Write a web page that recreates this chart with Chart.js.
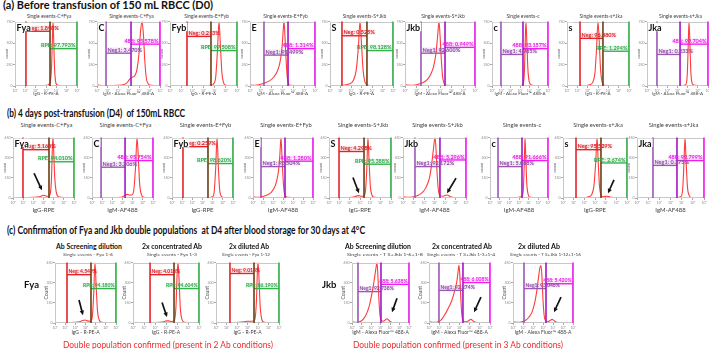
<!DOCTYPE html>
<html><head><meta charset="utf-8">
<script src="https://cdn.jsdelivr.net/npm/chart.js@4.4.1/dist/chart.umd.min.js"></script>
<style>
html,body{margin:0;padding:0;background:#fff;width:709px;height:349px;overflow:hidden;position:relative;font-family:Lato,'Liberation Sans',sans-serif;}
.t{position:absolute;white-space:pre;line-height:1;transform-origin:0 50%;}
canvas{position:absolute;}
</style></head><body>
<script>
// ================= DATA =================
const X_TICK_LABELS = ['10⁰','10¹','10²','10³','10⁴','10⁵','10⁶'];
const Y_TICKS_D0 = ['0','250','500','750'];
const Y_TICKS_D4 = ['0','150','300','450'];
const Y_TICKS_D30 = ['0','150','300','450'];

// Row (a) D0 histograms: [log-position (0-60), % of max count]
const fyaD0 = [[0,8],[0.4,1],[10,0.5],[25,0.5],[31,1],[33,3],[34.5,10],[35.5,35],[36.3,80],[36.8,100],[37.4,75],[38.2,30],[39.2,8],[40.5,2],[43,0.5],[60,0]];
const cD0 = [[0,30],[0.4,2],[10,0.5],[20,1],[25,2],[28,4],[30,8],[32,12],[34,14],[36,16],[38,25],[40,50],[41.5,85],[42.9,100],[44.2,80],[45.5,40],[47,12],[49,3],[52,1],[60,0]];
const fybD0 = [[0,6],[0.4,0.5],[30,0.5],[37,1],[39,3],[41,15],[42.5,55],[43.9,100],[45.2,60],[46.5,20],[48,5],[50,1],[60,0]];
const eD0 = [[0,2],[3,1],[8,2],[14,5],[18,8],[22,14],[25,22],[27,32],[28.5,45],[29.8,65],[30.8,90],[31.4,100],[32.2,80],[33.2,45],[34.3,15],[35.5,4],[37,1],[60,0]];
const sD0 = [[0,6],[0.4,0.5],[12,1],[18,3],[22,8],[25,25],[27,60],[28.6,100],[30,65],[31.5,25],[33,8],[35,2],[38,0.5],[60,0]];
const jkbD0 = [[0,2],[5,1],[10,2],[15,5],[19,10],[22,18],[24.5,30],[26.5,50],[28,78],[29.1,100],[30,80],[31,45],[32.2,15],[33.5,4],[35,1],[60,0]];
const cLowD0 = [[0,6],[0.4,0.5],[28,0.5],[32,1],[33.5,4],[34.8,25],[35.7,75],[36.4,100],[37.3,70],[38.5,25],[40,6],[42,1.5],[45,0.5],[60,0]];
const sLowD0 = [[0,6],[0.4,0.5],[15,0.5],[22,2],[25,6],[27,20],[28.5,55],[30,100],[31.3,65],[32.5,25],[34,6],[36,1],[60,0]];
const jkaD0 = [[0,6],[0.4,0.5],[35,0.5],[38,2],[39.5,15],[40.5,60],[41.3,100],[42.2,65],[43.2,20],[44.5,4],[47,1],[60,0]];

// Row (b) D4 histograms
const fyaD4 = [[0,6],[0.4,0.5],[10,0.5],[20,1],[26,2],[28,3.5],[29.5,4.5],[31,4],[33,3],[35,3],[36.5,6],[37.8,30],[38.7,80],[39.3,100],[40,80],[41,35],[42.5,10],[44,3],[47,1],[60,0]];
const cD4 = [[0,6],[0.4,0.5],[20,0.5],[28,1],[31,3],[33,5],[35,6],[37,5],[39,5],[41,12],[42.8,50],[44.3,100],[45.5,70],[46.8,25],[48.5,6],[51,1],[60,0]];
const fybD4 = [[0,6],[0.4,0.5],[36,0.5],[40,2],[41.5,10],[43,50],[44.3,100],[45.5,55],[46.8,15],[48.5,3],[51,0.5],[60,0]];
const eD4 = [[0,2],[4,1],[9,2],[14,5],[18,9],[21,16],[23.5,27],[25.5,45],[26.8,70],[28,100],[28.8,75],[29.8,40],[31,12],[32.5,3],[35,1],[60,0]];
const sD4 = [[0,6],[0.4,0.5],[15,0.5],[22,1],[25,2],[27,3.5],[29,4],[31,3],[33,3],[35,8],[36.5,45],[37.7,100],[38.8,60],[40,20],[41.5,5],[44,1],[60,0]];
const jkbD4 = [[0,2],[5,1],[10,2],[15,5],[19,10],[22,18],[25,32],[27,52],[28.8,78],[30.5,100],[31.5,80],[32.5,40],[33.8,12],[35.5,4],[38,3],[40,4],[42,5],[44,3.5],[46,1.5],[49,0.5],[60,0]];
const cLowD4 = [[0,6],[0.4,0.5],[28,0.5],[31,1.5],[33,3],[34.5,15],[35.5,60],[36.2,100],[37,70],[38,25],[39.5,6],[41.5,1],[60,0]];
const sLowD4 = [[0,6],[0.4,0.5],[18,0.5],[24,2],[27,6],[29,20],[30.7,60],[31.9,100],[33,60],[34.2,20],[35.5,5],[37,2],[39,2.5],[41,3],[43,2.5],[45,1],[60,0]];
const jkaD4 = [[0,6],[0.4,0.5],[36,0.5],[39,2],[40.8,12],[42,55],[43,100],[44,60],[45.2,18],[46.8,4],[49,0.5],[60,0]];

// Row (c) D4 + 30 days storage histograms
const fyaScreen = [[0,6],[0.4,0.5],[12,0.5],[20,1],[24,2],[27,4],[29.5,5],[32,3.5],[34.5,3],[36.5,8],[38,45],[39.3,100],[40.5,60],[41.8,20],[43.5,5],[46,1],[60,0]];
const fyaConc = [[0,6],[0.4,0.5],[16,0.5],[24,1],[28,2],[30.5,3.5],[32.5,3.5],[35,2.5],[37.5,4],[39,25],[40.1,80],[40.9,100],[41.8,75],[43,25],[44.5,6],[47,1],[60,0]];
const fyaDil = [[0,6],[0.4,0.5],[14,0.5],[22,1],[27,2],[30,3],[32.5,3],[35,3],[37,6],[38.6,40],[39.4,85],[40,100],[40.8,80],[42,30],[43.5,7],[46,1],[60,0]];
const jkbScreen = [[0,2],[4,1],[8,2],[11,5],[13.5,10],[16,18],[18.5,30],[20.5,45],[22.5,62],[24.2,80],[25.5,94],[26.3,100],[27.2,80],[28.3,40],[29.5,12],[31,4],[33,3],[35,5],[36.8,7],[38.5,5],[40.5,2],[43,0.5],[60,0]];
const jkbConc = [[0,2],[5,1],[9,2],[12,5],[14,10],[17,18],[20,28],[22.6,38],[25,52],[27.5,70],[28.8,88],[29.5,96],[30.3,80],[31.2,45],[32.2,15],[33.5,4],[35,2],[38,3],[40,5],[41.3,6],[43,4],[45,1.5],[48,0.5],[60,0]];
const jkbDil = [[0,2],[5,1],[9,2],[13,5],[16,10],[19,18],[21.5,32],[23.5,50],[25.5,75],[27,92],[28,95],[29,75],[30,38],[31.2,12],[32.5,4],[34.5,2],[37,4],[39,6],[41,4],[43,1.5],[46,0.5],[60,0]];

// Gates: [left edge, split, right edge] on the 0-60 axis; percentages
const D0_KINDS = ['RPE','488','RPE','488','RPE','488','488','RPE','488'];
const D0_LETTERS = ['Fya','C','Fyb','E','S','Jkb','c','s','Jka'];
const D0_TITLES = ['Single events-C+Fya','Single events-C+Fya','Single events-E+Fyb','Single events-E+Fyb','Single events-S+Jkb','Single events-S+Jkb','Single events-c','Single events-s+Jka','Single events-s+Jka'];
const D0_XTITLES = ['IgG - R-PE-A','IgM - Alexa Fluor™ 488-A','IgG - R-PE-A','IgM - Alexa Fluor™ 488-A','IgG - R-PE-A','IgM - Alexa Fluor™ 488-A','IgM - Alexa Fluor™ 488-A','IgG - R-PE-A','IgM - Alexa Fluor™ 488-A'];
const D0_GATES = [[10.6,33.9,60],[8.6,32.4,60],[15.2,36.7,60],[12.9,35.1,60],[11.4,35.2,60],[13.7,34.3,60],[9.6,33.2,60],[12.6,34.8,60],[9.8,32.5,60]];
const D0_BARS = [[85,58],[51,65],[77,55],[48,58],[78,55],[51,60],[49,58],[74,54],[49,65]];
const D0_NEG = ['1.898%','3.470%','0.213%','91.499%','0.525%','92.600%','4.985%','96.480%','0.233%'];
const D0_POS = ['97.793%','95.578%','99.508%','1.314%','98.128%','0.949%','93.157%','1.294%','99.704%'];
const D0_CURVES = [fyaD0,cD0,fybD0,eD0,sD0,jkbD0,cLowD0,sLowD0,jkaD0];
const D0_ARROWS = [null,null,null,null,null,null,null,null,null];

const D4_KINDS = D0_KINDS;
const D4_LETTERS = D0_LETTERS;
const D4_TITLES = D0_TITLES;
const D4_XTITLES = ['IgG-RPE','IgM-AF488','IgG-RPE','IgM-AF488','IgG-RPE','IgM-AF488','IgM-AF488','IgG-RPE','IgM-AF488'];
const D4_GATES = [[9.8,35.4,60],[8.9,32.5,60],[10.8,35.4,60],[8,32,60],[9.7,33.9,60],[11.4,35.2,60],[8.3,33.1,60],[12.2,35.6,60],[14.3,35.8,60]];
const D4_BARS = [[80,60],[51,62],[85,57],[52,61],[77,56],[52,63],[52,62],[80,58],[54,62]];
const D4_NEG = ['5.160%','3.206%','0.259%','95.504%','4.298%','92.172%','5.088%','95.529%','0.375%'];
const D4_POS = ['94.010%','95.754%','98.620%','1.280%','95.388%','5.296%','91.666%','2.674%','99.799%'];
const D4_CURVES = [fyaD4,cD4,fybD4,eD4,sD4,jkbD4,cLowD4,sLowD4,jkaD4];
const D4_ARROWS = [[[20.7,41],[28.5,13]],null,null,null,[[23.2,34],[29,8]],[[50.5,33],[41.9,8]],null,[[47.8,30],[42.2,8]],null];

const C_KINDS = ['RPE','RPE','RPE','488','488','488'];
const C_HEADERS = ['Ab Screening dilution','2x concentrated Ab','2x diluted Ab','Ab Screening dilution','2x concentrated Ab','2x diluted Ab'];
const C_SUBS = ['Single events - Fya 1-6','Single events - Fya 1-3','Single events - Fya 1-12','Single events - T S+Jkb 1-6+1-8','Single events - T S+Jkb 1-3+1-4','Single events - T S+Jkb 1-12+1-16'];
const C_XTITLES = ['IgG - R-PE-A','IgG - R-PE-A','IgG - R-PE-A','IgM - Alexa Fluor™ 488-A','IgM - Alexa Fluor™ 488-A','IgM - Alexa Fluor™ 488-A'];
const C_GATES = [[11.8,35.4,60],[15.5,37.3,60],[13.3,36.2,60],[6.3,30.5,60],[9.8,33.4,60],[11,33,60]];
const C_BARS = [[80,57],[80,57],[82,57],[52,64],[54,67],[57,65]];
const C_NEG = ['4.549%','4.018%','9.013%','92.738%','92.274%','93.046%'];
const C_POS = ['94.180%','94.604%','86.190%','5.638%','6.008%','5.420%'];
const C_CURVES = [fyaScreen,fyaConc,fyaDil,jkbScreen,jkbConc,jkbDil];
const C_ARROWS = [[[23.6,38],[27.5,13]],[[26.4,34],[30.9,10]],null,[[47.4,41],[42.1,18]],[[51.1,43],[44.3,18]],[[48,43],[41,18]]];

// ================= LAYOUT / STYLE =================
Chart.defaults.font.family = 'Lato';
const RED='#e3242b', GREEN='#34b24a', PURPLE='#9b57b4', MAGENTA='#f01cf0', MID_RG='#6b3d12', MID_PM='#a314c4';
const TXT_RED='#d8232a', TXT_GREEN='#2ea84a', TXT_PURPLE='#8f4aa8', TXT_MAG='#e81ee8';

function txt(s,x,y,size,o){
  o=o||{};
  const el=document.createElement('div'); el.className='t'; el.textContent=s;
  el.style.fontSize=size+'px'; el.style.fontWeight=o.bold?'700':'400'; el.style.color=o.color||'#222';
  document.body.appendChild(el);
  const w=el.getBoundingClientRect().width;
  const sx=o.w? o.w/w : 1;
  const ww=w*sx;
  el.style.left=(o.center? x-ww/2 : x)+'px';
  el.style.top=(y-size*0.55)+'px';
  el.style.transform='scaleX('+sx+')';
}

function arrow(ctx,x1,y1,x2,y2){
  const a=Math.atan2(y2-y1,x2-x1), hl=5;
  ctx.strokeStyle='#111'; ctx.fillStyle='#111'; ctx.lineWidth=1.7;
  ctx.beginPath(); ctx.moveTo(x1,y1); ctx.lineTo(x2-hl*0.8*Math.cos(a),y2-hl*0.8*Math.sin(a)); ctx.stroke();
  ctx.beginPath(); ctx.moveTo(x2,y2);
  ctx.lineTo(x2-hl*Math.cos(a-0.45),y2-hl*Math.sin(a-0.45));
  ctx.lineTo(x2-hl*Math.cos(a+0.45),y2-hl*Math.sin(a+0.45));
  ctx.closePath(); ctx.fill();
}

function drawOverlay(chart,p){
  const ctx=chart.ctx, ca=chart.chartArea, x=chart.scales.x, y=chart.scales.y;
  ctx.save();
  ctx.strokeStyle='#c8c8c8'; ctx.lineWidth=1;
  ctx.strokeRect(Math.round(ca.left)+0.5,Math.round(ca.top)+0.5,Math.round(ca.width)-1,Math.round(ca.height)-1);
  const rpe=p.kind==='RPE';
  const cL=rpe?RED:PURPLE, cR=rpe?GREEN:MAGENTA, cM=rpe?MID_RG:MID_PM;
  const tL=rpe?TXT_RED:TXT_PURPLE, tR=rpe?TXT_GREEN:TXT_MAG;
  const X0=x.getPixelForValue(p.gx[0]), X1=x.getPixelForValue(p.gx[1]), X2=x.getPixelForValue(p.gx[2]);
  const yb=y.getPixelForValue(0), yt=y.getPixelForValue(100);
  const vline=(X,c)=>{ctx.strokeStyle=c;ctx.lineWidth=1.6;ctx.beginPath();ctx.moveTo(X,yb);ctx.lineTo(X,yt);ctx.stroke();};
  const hline=(a,b,Y,c)=>{ctx.strokeStyle=c;ctx.lineWidth=1.4;ctx.beginPath();ctx.moveTo(a,Y);ctx.lineTo(b,Y);ctx.stroke();};
  const B0=y.getPixelForValue(p.bars[0]), B1=y.getPixelForValue(p.bars[1]);
  vline(X0,cL); vline(X2,cR);
  hline(X0,X1,B0,cL); hline(X1,X2,B1,cR);
  vline(X1,cM);
  ctx.font='bold '+p.fs.lab+'px Lato'; ctx.textBaseline='alphabetic';
  const s0=(rpe?'Neg':'Neg1')+': '+p.neg, s1=(rpe?'RPE':'488')+': '+p.pos;
  const lab=(s,X,Y,align,col,bg)=>{
    const w=ctx.measureText(s).width; const lx= align==='left'? X : X-w;
    ctx.fillStyle=bg; ctx.fillRect(lx-0.5,Y-p.fs.lab*0.8,w+1,p.fs.lab*0.85);
    ctx.fillStyle=col; ctx.textAlign='left'; ctx.fillText(s,lx,Y);
  };
  lab(s0,X0+1.5,B0-1.3,'left',tL,rpe?'rgba(227,36,43,0.13)':'rgba(155,87,180,0.15)');
  lab(s1,X2-1.5,B1-1.3,'right',tR,rpe?'rgba(52,178,74,0.13)':'rgba(240,28,240,0.13)');
  if(p.letter){
    ctx.font='bold '+p.fs.letter+'px Lato'; ctx.textBaseline='top';
    const w=ctx.measureText(p.letter).width;
    ctx.fillStyle='#fff'; ctx.fillRect(ca.left+1,ca.top+1,w+1.5,p.fs.letter*0.95);
    ctx.fillStyle='#111'; ctx.fillText(p.letter,ca.left+1.5,ca.top+1.5);
  }
  if(p.arrow){
    arrow(ctx,x.getPixelForValue(p.arrow[0][0]),y.getPixelForValue(p.arrow[0][1]),x.getPixelForValue(p.arrow[1][0]),y.getPixelForValue(p.arrow[1][1]));
  }
  ctx.restore();
}

function makePanel(p){
  const PADT=2, PADR=6;
  const cv=document.createElement('canvas');
  const W=p.w+p.axW+PADR, H=p.h+PADT+p.axH;
  cv.width=W; cv.height=H;
  cv.style.left=(p.x-p.axW)+'px'; cv.style.top=(p.y-PADT)+'px';
  cv.style.width=W+'px'; cv.style.height=H+'px';
  document.body.appendChild(cv);
  new Chart(cv,{
    type:'line',
    data:{datasets:[{data:p.curve,borderColor:'rgba(255,32,32,0.88)',borderWidth:1.1,pointRadius:0,fill:false,cubicInterpolationMode:'monotone'}]},
    options:{
      responsive:false,animation:false,events:[],devicePixelRatio:1,
      layout:{padding:{top:PADT,right:PADR,left:0,bottom:0}},
      plugins:{legend:{display:false},tooltip:{enabled:false},title:{display:false}},
      scales:{
        x:{type:'linear',min:0,max:60,
          afterBuildTicks:a=>{a.ticks=[0,10,20,30,40,50,60].map(v=>({value:v}));},
          ticks:{autoSkip:false,maxRotation:0,font:{size:p.fs.tick},color:'#8a8a8a',padding:0.5,callback:(v,i)=>X_TICK_LABELS[i]},
          grid:{display:true,drawOnChartArea:false,tickLength:2,color:'#aaa'},border:{display:false},
          title:{display:true,text:p.xTitle,font:{size:p.fs.xt},color:'#444',padding:0},
          afterFit:a=>{a.height=p.axH;}},
        y:{min:0,max:100,
          afterBuildTicks:a=>{a.ticks=[0,33.333,66.667,100].map(v=>({value:v}));},
          ticks:{font:{size:p.fs.tick},color:'#8a8a8a',padding:0.5,callback:(v,i)=>p.yTicks[i]},
          grid:{display:true,drawOnChartArea:false,tickLength:2,color:'#aaa'},border:{display:false},
          title:{display:true,text:p.yTitle,font:{size:p.fs.yt},color:'#555',padding:0},
          afterFit:a=>{a.width=p.axW;}}
      }
    },
    plugins:[{id:'overlay',afterDatasetsDraw:(chart)=>drawOverlay(chart,p)}]
  });
}

// frames [left, width] per row
const D0_FRAMES=[[15,62],[97,63],[170,67],[250,65],[330,63],[405,70],[492,56],[567,62],[647,61]];
const D4_FRAMES=[[13,61],[92,61],[172,61],[253,60],[329,62],[403,63],[490,58],[563,64],[637,67]];
const C_FRAMES=[[55,61],[133,66],[216,63],[352,57],[429,61],[513,60]];

// titles
txt('(a) Before transfusion of 150 mL RBCC (D0)',3,6,10.5,{bold:1,w:210,color:'#111'});
txt('(b) 4 days post-transfusion (D4)  of 150mL RBCC',7,113.5,10.5,{bold:1,w:178,color:'#111'});
txt('(c) Confirmation of Fya and Jkb double populations  at D4 after blood storage for 30 days at 4°C',7,231,10.5,{bold:1,w:358,color:'#111'});

const fsA={tick:3.5,xt:4.5,yt:4,lab:5.5,letter:9};
const fsB={tick:3.5,xt:6,yt:4,lab:5.5,letter:9};
const fsC={tick:3.5,xt:5,yt:5,lab:5,letter:9};

D0_FRAMES.forEach((f,i)=>{
  txt(D0_TITLES[i],f[0]+f[1]/2+3,17,5,{center:1,color:'#444'});
  makePanel({x:f[0],w:f[1],y:21,h:65,axW:11,axH:10,curve:D0_CURVES[i],kind:D0_KINDS[i],gx:D0_GATES[i],bars:D0_BARS[i],neg:D0_NEG[i],pos:D0_POS[i],letter:D0_LETTERS[i],xTitle:D0_XTITLES[i],yTitle:'count',yTicks:Y_TICKS_D0,arrow:D0_ARROWS[i],fs:fsA});
});
D4_FRAMES.forEach((f,i)=>{
  txt(D4_TITLES[i],f[0]+f[1]/2+3,125,5.8,{center:1,color:'#444'});
  makePanel({x:f[0],w:f[1],y:137,h:61,axW:11,axH:16,curve:D4_CURVES[i],kind:D4_KINDS[i],gx:D4_GATES[i],bars:D4_BARS[i],neg:D4_NEG[i],pos:D4_POS[i],letter:D4_LETTERS[i],xTitle:D4_XTITLES[i],yTitle:'count',yTicks:Y_TICKS_D4,arrow:D4_ARROWS[i],fs:fsB});
});
const C_HEAD_X=[89,172,249,378,462,539], C_HEAD_W=[66,60,40,66,60,42];
const C_SUB_X=[88,172,246,385,461,545], C_SUB_W=[50,50,48,76,68,71];
C_FRAMES.forEach((f,i)=>{
  txt(C_HEADERS[i],C_HEAD_X[i],248,6.5,{center:1,bold:1,w:C_HEAD_W[i],color:'#111'});
  txt(C_SUBS[i],C_SUB_X[i],255.5,4.3,{center:1,w:C_SUB_W[i],color:'#444'});
  makePanel({x:f[0],w:f[1],y:262,h:61,axW:12,axH:12,curve:C_CURVES[i],kind:C_KINDS[i],gx:C_GATES[i],bars:C_BARS[i],neg:C_NEG[i],pos:C_POS[i],letter:null,xTitle:C_XTITLES[i],yTitle:'Count',yTicks:Y_TICKS_D30,arrow:C_ARROWS[i],fs:fsC});
});
txt('Fya',24,285,9.5,{bold:1,color:'#111'});
txt('Jkb',322,285,9.5,{bold:1,color:'#111'});
txt('Double population confirmed (present in 2 Ab conditions)',63,344,10,{color:'#ee2a2a',w:210});
txt('Double population confirmed (present in 3 Ab conditions)',353,344,10,{color:'#ee2a2a',w:210});
</script></body></html>
